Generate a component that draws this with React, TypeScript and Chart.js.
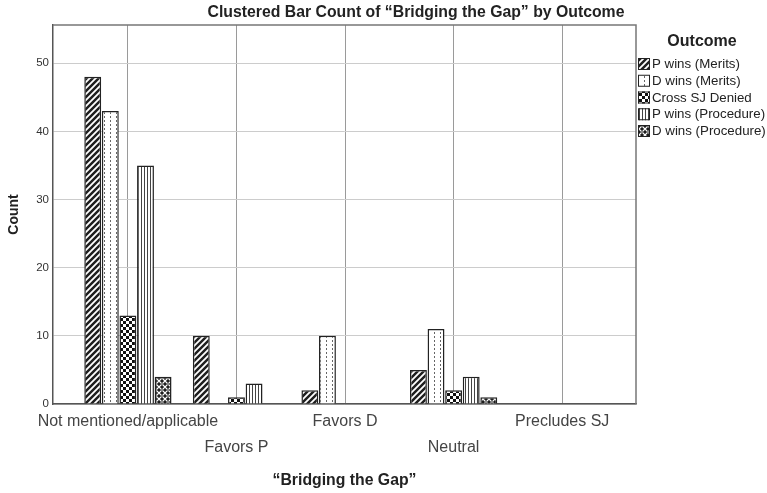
import React, { useEffect, useRef } from 'react';
import { Chart, registerables } from 'chart.js';

Chart.register(...registerables);

const FONT = '"Liberation Sans", Arial, sans-serif';

const categories = ['Not mentioned/applicable', 'Favors P', 'Favors D', 'Neutral', 'Precludes SJ'];
const seriesNames = ['P wins (Merits)', 'D wins (Merits)', 'Cross SJ Denied', 'P wins (Procedure)', 'D wins (Procedure)'];
const pWinsMerits = [48, 10, 2, 5, 0];
const dWinsMerits = [43, 0, 10, 11, 0];
const crossSJDenied = [13, 1, 0, 2, 0];
const pWinsProcedure = [35, 3, 0, 4, 0];
const dWinsProcedure = [4, 0, 0, 1, 0];
const yTicks = [0, 10, 20, 30, 40, 50];
const seriesValues = [pWinsMerits, dWinsMerits, crossSJDenied, pWinsProcedure, dWinsProcedure];

const chartTitle = 'Clustered Bar Count of \u201CBridging the Gap\u201D by Outcome';
const xTitle = '\u201CBridging the Gap\u201D';
const yTitle = 'Count';
const legendTitle = 'Outcome';

function makePattern(kind: number): CanvasPattern | string {
  const c = document.createElement('canvas');
  const g = c.getContext('2d');
  if (!g) return '#888';
  if (kind === 0) {
    c.width = 6; c.height = 6;
    g.fillStyle = '#1e1e1e';
    g.fillRect(0, 0, 6, 6);
    g.strokeStyle = '#fff';
    g.lineWidth = 1.8;
    g.beginPath();
    g.moveTo(-3, 3); g.lineTo(3, -3);
    g.moveTo(0, 6); g.lineTo(6, 0);
    g.moveTo(3, 9); g.lineTo(9, 3);
    g.stroke();
  } else if (kind === 1) {
    c.width = 6; c.height = 4;
    g.fillStyle = '#fff';
    g.fillRect(0, 0, 6, 4);
    g.fillStyle = '#666';
    g.fillRect(2, 0, 1, 2);
  } else if (kind === 2) {
    c.width = 6; c.height = 6;
    g.fillStyle = '#fff';
    g.fillRect(0, 0, 6, 6);
    g.fillStyle = '#111';
    g.fillRect(0, 0, 3, 3);
    g.fillRect(3, 3, 3, 3);
  } else if (kind === 3) {
    c.width = 3; c.height = 3;
    g.fillStyle = '#fff';
    g.fillRect(0, 0, 3, 3);
    g.fillStyle = '#444';
    g.fillRect(0, 0, 1, 3);
  } else {
    c.width = 6; c.height = 6;
    g.fillStyle = '#1e1e1e';
    g.fillRect(0, 0, 6, 6);
    g.strokeStyle = '#fff';
    g.lineWidth = 1.1;
    g.beginPath();
    g.moveTo(0.5, 0.5); g.lineTo(5.5, 5.5);
    g.moveTo(0.5, 5.5); g.lineTo(5.5, 0.5);
    g.stroke();
  }
  return g.createPattern(c, 'repeat') || '#888';
}

export default function App() {
  const ref = useRef<HTMLCanvasElement | null>(null);

  useEffect(() => {
    document.body.style.margin = '0';
    const canvas = ref.current;
    if (!canvas) return;
    const patterns = seriesNames.map((_, i) => makePattern(i));

    const framePlugin = {
      id: 'frameAndLabels',
      afterDraw(chart: any) {
        const { ctx, chartArea } = chart;
        ctx.save();
        ctx.strokeStyle = '#777';
        ctx.lineWidth = 1.5;
        ctx.beginPath();
        ctx.moveTo(chartArea.left, chartArea.top);
        ctx.lineTo(chartArea.right, chartArea.top);
        ctx.lineTo(chartArea.right, chartArea.bottom);
        ctx.stroke();

        ctx.fillStyle = '#222';
        ctx.font = `bold 15.8px ${FONT}`;
        ctx.textAlign = 'center';
        ctx.textBaseline = 'middle';
        ctx.fillText(chartTitle, 416, 13);

        ctx.font = `bold 16px ${FONT}`;
        ctx.fillText(legendTitle, 702, 42);
        ctx.font = `13.3px ${FONT}`;
        ctx.textAlign = 'left';
        seriesNames.forEach((name, i) => {
          const cy = 64 + i * 16.75;
          ctx.fillStyle = patterns[i] as any;
          ctx.fillRect(638, cy - 6, 12, 12);
          ctx.strokeStyle = '#222';
          ctx.lineWidth = 1;
          ctx.strokeRect(638.5, cy - 5.5, 11, 11);
          ctx.fillStyle = '#222';
          ctx.fillText(name, 652, cy + 0.5);
        });
        ctx.restore();
      },
    };

    const chart = new Chart(canvas, {
      type: 'bar',
      data: {
        datasets: seriesNames.map((name, i) => ({
          label: name,
          data: seriesValues[i].map((v, j) => ({ x: j, y: v })),
          backgroundColor: patterns[i] as any,
          borderColor: '#222',
          borderWidth: 1.5,
          categoryPercentage: 0.81,
          barPercentage: 0.96,
        })),
      },
      options: {
        animation: false,
        responsive: false,
        devicePixelRatio: 1,
        layout: { padding: { top: 25, right: 131, left: 0, bottom: 0 } },
        plugins: {
          legend: { display: false },
          title: { display: false },
          tooltip: { enabled: false },
        },
        scales: {
          x: {
            type: 'linear',
            min: -0.69,
            max: 4.68,
            offset: false,
            afterBuildTicks: (s: any) => {
              s.ticks = categories.map((_, i) => ({ value: i }));
            },
            afterFit: (s: any) => {
              s.height = 89;
            },
            grid: { color: '#9a9a9a', lineWidth: 1, drawTicks: false, offset: false },
            border: { color: '#555', width: 1.5 },
            ticks: {
              autoSkip: false,
              maxRotation: 0,
              minRotation: 0,
              padding: 4,
              color: '#444',
              font: { family: FONT, size: 16, lineHeight: 1.67 },
              callback: (v: any) => {
                const i = Math.round(Number(v));
                return i % 2 ? ['', categories[i]] : categories[i];
              },
            },
            title: {
              display: true,
              text: xTitle,
              color: '#222',
              font: { family: FONT, size: 15.8, weight: 'bold' },
              padding: { top: 0, bottom: 3 },
            },
          } as any,
          y: {
            min: 0,
            max: 55.6,
            afterBuildTicks: (s: any) => {
              s.ticks = yTicks.map((v) => ({ value: v }));
            },
            afterFit: (s: any) => {
              s.width = 53;
            },
            grid: { color: '#cccccc', lineWidth: 1, drawTicks: false },
            border: { color: '#555', width: 1.5 },
            ticks: {
              padding: 4,
              color: '#333',
              font: { family: FONT, size: 11.5 },
            },
            title: {
              display: true,
              text: yTitle,
              color: '#222',
              font: { family: FONT, size: 14, weight: 'bold' },
              padding: { top: 6, bottom: 0 },
            },
          } as any,
        },
      },
      plugins: [framePlugin],
    });
    return () => chart.destroy();
  }, []);

  return (
    <div style={{ width: 767, height: 493, background: '#fff' }}>
      <canvas ref={ref} width={767} height={493} style={{ display: 'block' }} />
    </div>
  );
}
